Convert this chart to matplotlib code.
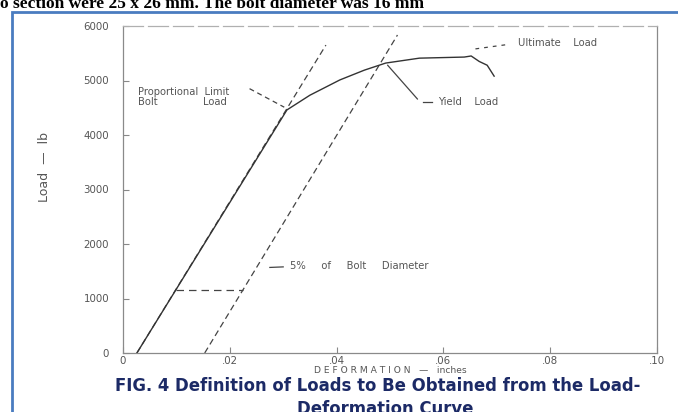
import matplotlib.pyplot as plt
from matplotlib.patches import Rectangle

# Load-deformation curve (deformation in inches, load in lb)
curve_x = [0.0026, 0.0307, 0.0350, 0.0406, 0.0452, 0.0492, 0.0555, 0.0639, 0.0652, 0.0667, 0.0682, 0.0695]
curve_y = [0, 4460, 4730, 5010, 5190, 5320, 5410, 5430, 5450, 5350, 5280, 5080]

# Initial tangent and the same line offset by 5% of the bolt diameter
tangent_x = [0.0026, 0.0380]
tangent_y = [0, 5650]
offset_x = [0.0153, 0.0514]
offset_y = [0, 5835]

# Points picked off the curve
prop_limit = (0.0307, 4460)
yield_pt = (0.0492, 5320)
offset_load = 1160

xticks = [0, 0.02, 0.04, 0.06, 0.08, 0.10]
xtick_labels = ['0', '.02', '.04', '.06', '.08', '.10']
yticks = [1000, 2000, 3000, 4000, 5000, 6000]

ink = '#444444'
fig = plt.figure(figsize=(6.78, 4.12), dpi=100)

# blue frame around the figure
fig.patches.append(Rectangle((12 / 678, -0.1), 1.2, 1 - 12 / 412 + 0.1,
                             transform=fig.transFigure, fill=False,
                             edgecolor='#4a7cc0', linewidth=2.0))

# running text from the page above the figure
fig.text(0.0, 1 - 8 / 412, 'o section were 25 x 26 mm. The bolt diameter was 16 mm',
         family='Liberation Serif', weight='bold', fontsize=12.5, va='baseline')

ax = fig.add_axes([123 / 678, 1 - 353 / 412, (657 - 123) / 678, (353 - 26) / 412])
ax.set_xlim(0, 0.0998)
ax.set_ylim(0, 6000)

for s in ax.spines.values():
    s.set_color('#8a8a8a')
    s.set_linewidth(0.9)
ax.spines['top'].set_color('#b0b0b0')
ax.spines['top'].set_linestyle((0, (16, 4)))

ax.plot(tangent_x, tangent_y, color=ink, lw=0.9, ls=(0, (5, 3)))
ax.plot(offset_x, offset_y, color=ink, lw=0.9, ls=(0, (5, 3)))
ax.plot(curve_x, curve_y, color='#333333', lw=1.0)

# offset dimension between the two straight lines
x_a = tangent_x[0] + offset_load / tangent_y[1] * (tangent_x[1] - tangent_x[0])
x_b = offset_x[0] + offset_load / offset_y[1] * (offset_x[1] - offset_x[0])
ax.plot([x_a, x_b], [offset_load, offset_load], color=ink, lw=0.9, ls=(0, (6, 4)))

lbl = dict(color='#555555', fontsize=7.2)
ax.text(0.0028, 4730, 'Proportional  Limit', **lbl)
ax.text(0.0028, 4550, 'Bolt', **lbl)
ax.text(0.0150, 4550, 'Load', **lbl)
ax.plot([0.0237, prop_limit[0] - 0.0005], [4850, prop_limit[1] + 50],
        color=ink, lw=0.9, ls=(0, (4, 3)))

ax.annotate('', xy=yield_pt, xytext=(0.0555, 4620),
            arrowprops=dict(arrowstyle='-', color=ink, lw=0.9))
ax.plot([0.0562, 0.0578], [4600, 4600], color=ink, lw=0.9)
ax.text(0.0590, 4600, 'Yield    Load', va='center', **lbl)

ax.plot([0.0660, 0.0720], [5580, 5660], color=ink, lw=0.9, ls=(0, (3, 4)))
ax.text(0.0740, 5680, 'Ultimate    Load', va='center', **lbl)

ax.plot([0.0275, 0.0300], [1570, 1580], color=ink, lw=0.9)
ax.text(0.0312, 1590, '5%     of     Bolt     Diameter', va='center', **lbl)

ax.set_xticks(xticks)
ax.set_xticklabels(xtick_labels)
ax.set_yticks([0] + yticks)
ax.set_yticklabels(['0'] + [str(v) for v in yticks])
ax.tick_params(colors='#888888', labelcolor='#555555', labelsize=7.4,
               direction='in', length=4)
ax.tick_params(axis='y', pad=10)
ax.tick_params(axis='x', pad=2)

ax.set_xlabel('D E F O R M A T I O N   —   inches', fontsize=6.6, color='#555555', labelpad=0)
ax.set_ylabel('Load  —  lb', fontsize=9, color='#555555')
ax.yaxis.set_label_coords(-0.135, 0.57)

cap = dict(family='DejaVu Sans', weight='bold', fontsize=11.9,
           color='#1c2a66', va='baseline')
fig.text(115 / 678, 1 - 391 / 412,
         'FIG. 4 Definition of Loads to Be Obtained from the Load-', **cap)
fig.text(385 / 678, 1 - 414 / 412, 'Deformation Curve', ha='center', **cap)

fig.savefig('out.png', dpi=100)
